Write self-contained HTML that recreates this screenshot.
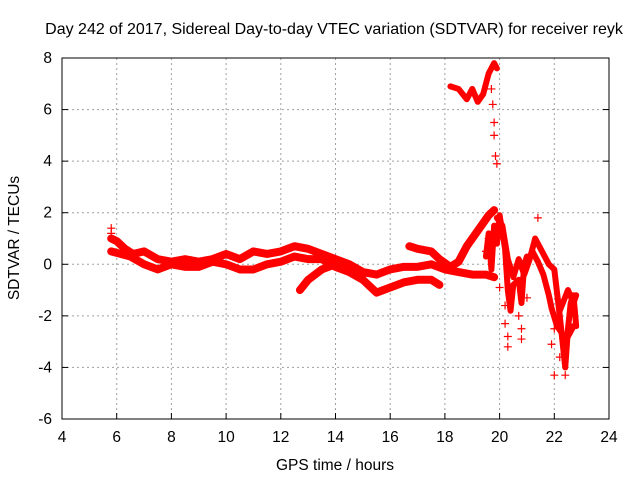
<!DOCTYPE html>
<html><head><meta charset="utf-8"><style>
body{margin:0;background:#fff}
svg text{font-family:"Liberation Sans",sans-serif;font-size:15.5px;fill:#000}
</style></head><body>
<svg id="chart" width="640" height="480" xmlns="http://www.w3.org/2000/svg">
<text x="334" y="34" text-anchor="middle" style="font-size:16px">Day 242 of 2017, Sidereal Day-to-day VTEC variation (SDTVAR) for receiver reyk</text>
<text x="335" y="470" text-anchor="middle">GPS time / hours</text>
<text transform="translate(19,238) rotate(-90)" text-anchor="middle">SDTVAR / TECUs</text>
<g id="grid"></g><g id="data"></g><g id="axes"></g>
</svg>
<script>
const xTicks=[4,6,8,10,12,14,16,18,20,22,24];
const yTicks=[-6,-4,-2,0,2,4,6,8];
const trackA=[[5.8,1.0],[6.0,0.9],[6.3,0.6],[6.6,0.4],[7.0,0.5],[7.5,0.2],[8,0.1],[8.5,0.2],[9,0.1],[9.5,0.2],[10,0.4],[10.5,0.2],[11,0.5],[11.5,0.4],[12,0.5],[12.5,0.7],[13,0.6],[13.5,0.4],[14,0.2],[14.5,0.0],[15,-0.3],[15.5,-0.4],[16,-0.2],[16.5,-0.1],[17,-0.1],[17.5,0.0],[18,-0.2],[18.5,-0.3],[19,-0.4],[19.5,-0.4],[19.8,-0.5]];
const trackB=[[5.8,0.5],[6.5,0.3],[7,0.0],[7.5,-0.2],[8,0.0],[8.5,-0.1],[9,-0.1],[9.5,0.1],[10,0.0],[10.5,-0.2],[11,-0.2],[11.5,0.0],[12,0.1],[12.5,0.3],[13,0.2],[13.5,0.2],[14,-0.1],[14.5,-0.3],[15,-0.4]];
const trackC=[[12.7,-1.0],[13,-0.6],[13.5,-0.2],[14,0.0],[14.5,-0.3],[15,-0.6],[15.5,-1.1],[16,-0.9],[16.5,-0.7],[17,-0.6],[17.5,-0.6],[17.8,-0.8]];
const trackD=[[16.7,0.7],[17,0.6],[17.5,0.5],[17.8,0.2],[18.2,-0.1],[18.5,0.1],[18.8,0.7],[19.2,1.3],[19.6,1.9],[19.8,2.1]];
const trackE=[[18.2,6.9],[18.5,6.8],[18.8,6.4],[19.0,6.8],[19.2,6.3],[19.4,6.6],[19.6,7.4],[19.8,7.8],[19.9,7.6]];
const trackF=[[19.9,1.8],[20.1,1.5],[20.3,0.2],[20.5,-0.5],[20.7,0.2],[20.9,-0.4],[21.1,0.2],[21.3,1.0],[21.5,0.6],[21.8,0.0],[22.0,-0.2],[22.2,-2.0],[22.3,-3.0],[22.4,-4.0],[22.5,-2.5],[22.6,-1.5],[22.7,-1.2],[22.8,-2.4]];
const trackG=[[22.2,-1.8],[22.5,-1.0],[22.7,-1.5],[22.8,-1.2]];
const trackH=[[19.5,0.3],[19.6,1.2],[19.7,-0.2],[19.8,1.5],[19.9,0.8],[20.0,1.9],[20.2,0.6],[20.3,-1.0],[20.4,-1.8],[20.5,-0.8],[20.7,-0.6],[20.8,-1.5],[20.9,0.0],[21.0,0.3]];
const trackI=[[21.2,0.5],[21.4,0.1],[21.6,-0.4],[21.8,-1.2],[21.9,-1.7],[22.1,-2.4],[22.3,-2.7],[22.5,-2.8],[22.7,-2.4]];
const outliers=[[19.8,5.0],[19.85,4.2],[19.9,3.9],[19.75,6.2],[19.8,5.5],[19.7,6.8],[20.3,-2.8],[20.3,-3.2],[20.8,-2.5],[20.8,-2.9],[22.0,-4.3],[21.9,-3.1],[21.4,1.8],[22.0,-2.5],[19.5,0.5],[20.0,-0.9],[20.2,-1.6],[19.6,1.0],[21.0,-1.3],[22.4,-4.3],[5.8,1.4],[5.8,1.2],[20.2,-2.3],[20.7,-2.0],[22.2,-3.6]];
const L=62,R=609,T=58,B=419;
const sx=v=>L+(v-4)/20*(R-L), sy=v=>B-(v+6)/14*(B-T);
const NS="http://www.w3.org/2000/svg";
function mk(tag,parent,attrs){const e=document.createElementNS(NS,tag);for(const k in attrs)e.setAttribute(k,attrs[k]);document.getElementById(parent).appendChild(e);return e;}
xTicks.forEach(t=>{
 if(t>4&&t<24){const g=mk('line','grid',{x1:sx(t),x2:sx(t),y1:T,y2:B,stroke:'#a0a0a0','stroke-dasharray':'2,3'});
 
 }
 const tk=mk('line','axes',{x1:sx(t),x2:sx(t),y1:B,y2:B-6,stroke:'#000'});
 
 
 const tx=mk('text','axes',{x:sx(t),y:B+23,'text-anchor':'middle'});tx.textContent=t;
 
 
});
yTicks.forEach(t=>{
 if(t>-6&&t<8){const g=mk('line','grid',{x1:L,x2:R,y1:sy(t),y2:sy(t),stroke:'#a0a0a0','stroke-dasharray':'2,3'});
 
 }
 const tk=mk('line','axes',{x1:L,x2:L+6,y1:sy(t),y2:sy(t),stroke:'#000'});
 
 
 const tk2=mk('line','axes',{x1:R,x2:R-6,y1:sy(t),y2:sy(t),stroke:'#000'});
 
 
 const tx=mk('text','axes',{x:L-10,y:sy(t)+5,'text-anchor':'end'});tx.textContent=t;
 
 
});
const fr=mk('rect','axes',{x:L,y:T,width:R-L,height:B-T,fill:'none',stroke:'#000'});


[trackA,trackB,trackC,trackD,trackE,trackF,trackG,trackH,trackI].forEach((tr,i)=>{
 const p=mk('polyline','data',{points:tr.map(d=>sx(d[0])+','+sy(d[1])).join(' '),fill:'none',stroke:'#ff0000','stroke-width':(i>=4?6:8),'stroke-linejoin':'round','stroke-linecap':'round'});
 
 
});
outliers.forEach(d=>{
 const x=sx(d[0]),y=sy(d[1]);
 const p=mk('path','data',{d:`M${x-4},${y}H${x+4}M${x},${y-4}V${y+4}`,stroke:'#ff0000','stroke-width':1.2});
 
 
});
</script>
</body></html>
